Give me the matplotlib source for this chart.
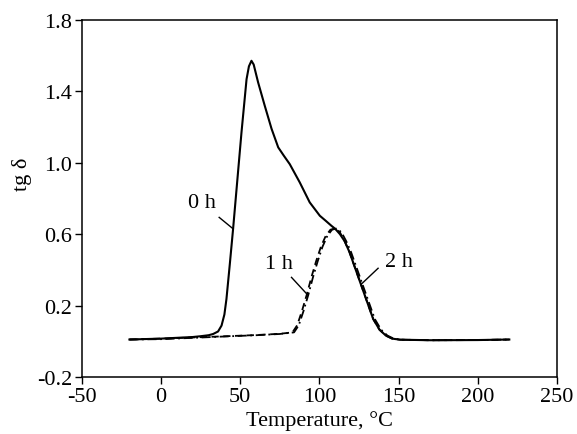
import matplotlib.pyplot as plt

# tg delta vs temperature
temp_0h = [-20, 0, 20, 24.5, 30, 32.9, 36, 38.2, 40, 41.3, 43.4, 45.5, 48, 50.8, 54, 55.5,
           57.1, 58.5, 61.3, 65.5, 69.8, 74, 77.5, 81.3, 87.6, 93.9, 100.3, 104, 107.6, 110,
           113, 116, 119, 123, 127, 131, 134, 138, 142, 146, 151, 170, 200, 220]
tgd_0h = [0.01, 0.015, 0.024, 0.028, 0.034, 0.041, 0.055, 0.088, 0.15, 0.237, 0.43, 0.63,
          0.885, 1.17, 1.468, 1.54, 1.571, 1.55, 1.45, 1.319, 1.19, 1.086, 1.04, 0.992, 0.89,
          0.778, 0.703, 0.675, 0.647, 0.63, 0.60, 0.56, 0.50, 0.40, 0.30, 0.20, 0.125, 0.065,
          0.032, 0.015, 0.009, 0.006, 0.007, 0.01]

temp_1h = [-20, 0, 22, 40, 60, 75, 83, 86, 89, 92, 95, 98, 101, 104, 107, 110, 113, 116, 119,
           123, 127, 131, 134, 138, 142, 146, 151, 170, 200, 220]
tgd_1h = [0.01, 0.015, 0.022, 0.028, 0.035, 0.042, 0.05, 0.09, 0.17, 0.26, 0.36, 0.45, 0.53,
          0.59, 0.625, 0.632, 0.61, 0.56, 0.50, 0.40, 0.30, 0.20, 0.125, 0.065, 0.032, 0.015,
          0.009, 0.006, 0.007, 0.01]

temp_2h = [-20, 0, 22, 40, 60, 75, 84, 87, 90, 93, 96, 99, 102, 105, 108, 111, 114, 117, 120,
           124, 128, 132, 135, 139, 143, 147, 152, 170, 200, 220]
tgd_2h = [0.01, 0.012, 0.02, 0.027, 0.034, 0.041, 0.05, 0.09, 0.17, 0.26, 0.36, 0.45, 0.53,
          0.59, 0.625, 0.632, 0.61, 0.56, 0.50, 0.40, 0.30, 0.20, 0.125, 0.065, 0.032, 0.015,
          0.009, 0.006, 0.007, 0.01]

# curve labels: (text, text x, text y, leader start, leader end)
labels = [("0 h", 25.6, 0.78, (36.7, 0.694), (45.5, 0.63)),
          ("1 h", 74.4, 0.435, (82.4, 0.358), (92.5, 0.261)),
          ("2 h", 150.5, 0.446, (137.1, 0.409), (126.6, 0.321))]

plt.rcParams['font.family'] = 'Liberation Serif'
plt.rcParams['font.size'] = 16
plt.rcParams['axes.unicode_minus'] = False

fig = plt.figure(figsize=(5.77, 4.35), dpi=100)
ax = fig.add_axes([0.142, 0.131, 0.823, 0.821])

ax.plot(temp_0h, tgd_0h, color='black', lw=1.5, linestyle='-')
ax.plot(temp_1h, tgd_1h, color='black', lw=1.3, linestyle=(0, (4, 2.5)))
ax.plot(temp_2h, tgd_2h, color='black', lw=1.3, linestyle=(0, (5, 2, 1, 2)))

for txt, tx, ty, p0, p1 in labels:
    ax.text(tx, ty, txt, ha='center', va='center', fontsize=16)
    ax.plot([p0[0], p1[0]], [p0[1], p1[1]], color='black', lw=1.0)

ax.set_xlim(-50, 250)
ax.set_ylim(-0.2, 1.8)
ax.set_xticks([-50, 0, 50, 100, 150, 200, 250])
ax.set_yticks([-0.2, 0.2, 0.6, 1.0, 1.4, 1.8])
ax.set_yticklabels(['-0.2', '0.2', '0.6', '1.0', '1.4', '1.8'])
ax.tick_params(direction='out', length=5, width=1.0, labelsize=16, pad=2)
for s in ax.spines.values():
    s.set_linewidth(1.1)

ax.set_xlabel('Temperature, °C', fontsize=16, labelpad=3)
ax.set_ylabel('tg δ', fontsize=16)
ax.yaxis.set_label_coords(-0.105, 0.57)

fig.savefig('out.png', dpi=100)
